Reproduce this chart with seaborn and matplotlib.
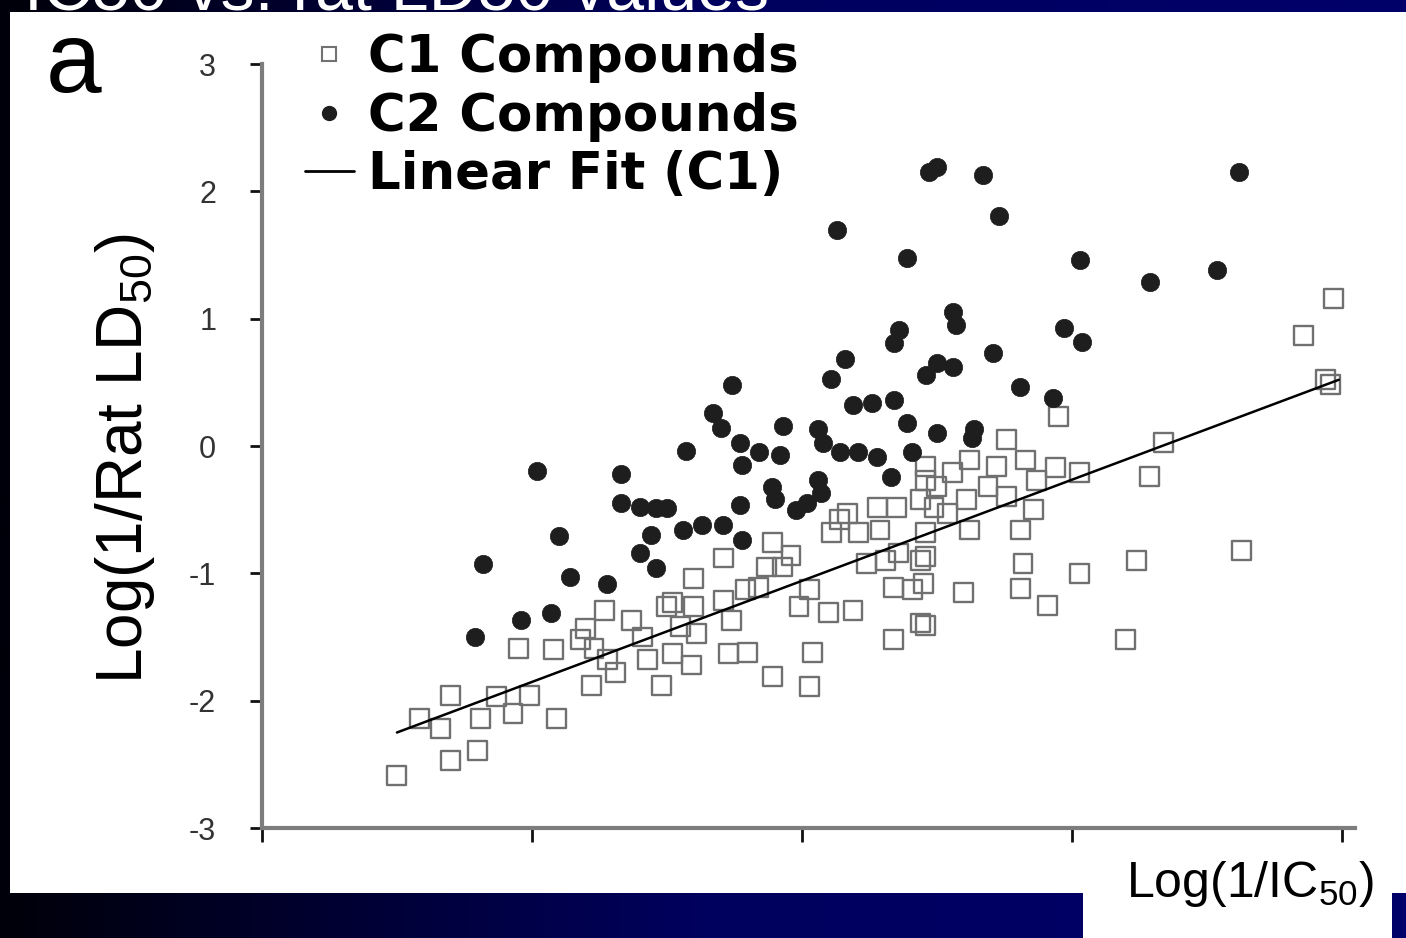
import numpy as np
import pandas as pd
import matplotlib
matplotlib.use("Agg")
import matplotlib.pyplot as plt
import seaborn as sns
from matplotlib.patches import Rectangle
from matplotlib.lines import Line2D
from matplotlib.colors import LinearSegmentedColormap

# ---------------- data ----------------
c1_x = [0.50, 0.585, 0.66, 0.70, 0.70, 0.80, 0.81, 0.87, 0.93, 0.99, 1.09, 0.95, 1.08, 1.18, 1.20, 1.27,
        1.23, 1.22, 1.28, 1.31, 1.37, 1.41, 1.43, 1.48, 1.50, 1.52,
        1.60, 1.52, 1.60, 1.55, 1.61, 1.71, 1.74, 1.73, 1.80, 1.59, 1.89, 2.04, 2.03, 1.87, 1.93, 1.89,
        1.84, 1.99, 2.10, 2.19, 2.03, 2.14, 2.17, 2.11, 2.21, 2.28, 2.35, 2.24, 2.31, 2.34, 2.41, 2.36,
        2.44, 2.44, 2.34, 2.46, 2.44, 1.71, 1.79, 1.96, 2.29,
        2.95, 2.76, 2.83, 2.94, 3.03, 2.87, 2.72, 2.62, 2.56, 2.46, 2.50, 2.61, 2.54, 2.76, 2.86, 2.81,
        2.62, 2.49, 2.46, 2.82, 2.81, 2.91, 2.60, 2.46, 2.45, 2.46, 3.03, 3.24, 3.20, 3.34, 3.29, 3.63,
        3.86, 3.97, 3.94, 3.96, 2.69]
c1_y = [-2.59, -2.14, -2.22, -1.96, -2.47, -2.39, -2.14, -1.97, -2.10, -1.96, -2.14, -1.59, -1.60, -1.52,
        -1.43, -1.29, -1.59, -1.88, -1.68, -1.78, -1.37, -1.50, -1.68, -1.88, -1.26, -1.63,
        -1.04, -1.23, -1.26, -1.42, -1.47, -0.88, -1.37, -1.63, -1.62, -1.72, -1.81, -1.62, -1.89, -0.95,
        -0.95, -0.76, -1.11, -1.26, -1.31, -1.29, -1.13, -0.58, -0.53, -0.68, -0.68, -0.48, -0.48, -0.92,
        -0.90, -1.11, -1.13, -0.84, -0.90, -1.39, -1.52, -0.27, -0.42, -1.21, -1.13, -0.86, -0.66,
        0.23, 0.05, -0.11, -0.17, -0.21, -0.27, -0.16, -0.11, -0.21, -0.16, -0.32, -0.42, -0.53, -0.40,
        -0.50, -0.66, -0.66, -0.48, -0.68, -0.92, -1.12, -1.25, -1.15, -0.87, -1.08, -1.41, -1.00, -0.90,
        -1.52, 0.03, -0.24, -0.82, 0.87, 1.16, 0.52, 0.48, -0.32]

c2_x = [0.79, 0.82, 0.96, 1.02, 1.07, 1.10, 1.14, 1.28, 1.33, 1.33,
        1.40, 1.46, 1.50, 1.44, 1.40, 1.46, 1.57, 1.56, 1.63, 1.71,
        1.67, 1.70, 1.74, 1.77, 1.78, 1.77, 1.78, 1.84, 1.92, 1.93,
        1.89, 1.90, 1.98, 2.02, 2.06, 2.08, 2.06, 2.07, 2.14, 2.21,
        2.28, 2.33, 2.13, 2.11, 2.16, 2.19, 2.26, 2.34, 2.34, 2.36,
        2.39, 2.41, 2.39, 2.46, 2.50, 2.56, 2.47, 2.50, 2.56, 2.57,
        2.50, 2.63, 2.64, 2.67, 2.71, 2.73, 2.81, 2.93, 2.97, 3.04,
        3.03, 3.29, 3.54, 3.62]
c2_y = [-1.50, -0.93, -1.37, -0.20, -1.31, -0.71, -1.03, -1.08, -0.22, -0.45,
        -0.48, -0.49, -0.49, -0.70, -0.84, -0.96, -0.04, -0.66, -0.62, -0.62,
        0.26, 0.14, 0.48, 0.02, -0.15, -0.46, -0.74, -0.05, -0.07, 0.16,
        -0.32, -0.42, -0.50, -0.45, 0.13, 0.02, -0.27, -0.37, -0.05, -0.05,
        -0.09, -0.24, 1.70, 0.53, 0.68, 0.32, 0.34, 0.36, 0.81, 0.91,
        0.18, -0.05, 1.48, 0.56, 0.65, 0.62, 2.15, 2.19, 1.05, 0.95,
        0.10, 0.06, 0.13, 2.13, 0.73, 1.81, 0.46, 0.38, 0.93, 0.82,
        1.46, 1.29, 1.38, 2.15]

# linear fit of C1 as drawn in the figure (end points)
fit_x = [0.50, 3.99]
fit_y = [-2.25, 0.52]

y_ticks = [-3, -2, -1, 0, 1, 2, 3]
y_ticklabels = ["-3", "-2", "-1", "0", "1", "2", "3"]
x_ticks = [0, 1, 2, 3, 4]

legend_labels = ["C1 Compounds", "C2 Compounds", "Linear Fit (C1)"]
title_text = "IC50 vs. rat LD50 values"
panel_letter = "a"
x_label = "Log(1/IC$_{50}$)"
y_label = "Log(1/Rat LD$_{50}$)"

# ---------------- style ----------------
sns.set_style("white")
plt.rcParams['font.family'] = ['Liberation Sans', 'DejaVu Sans']
plt.rcParams['mathtext.default'] = 'regular'
plt.rcParams['text.color'] = 'black'

W, H = 1406, 938
fig = plt.figure(figsize=(W / 100, H / 100), dpi=100)

# background: dark gradient with white panels
bg = fig.add_axes([0, 0, 1, 1], zorder=-10)
cmap = LinearSegmentedColormap.from_list("bg", ["#00000a", "#00005e", "#00006a"])
bg.imshow(np.linspace(0, 1, 512)[None, :], aspect='auto', cmap=cmap, extent=[0, W, H, 0])
bg.add_patch(Rectangle((10, 12), W - 10, 881, facecolor='white', edgecolor='none'))
bg.add_patch(Rectangle((1083, 880), 1392 - 1083, 60, facecolor='white', edgecolor='none'))
bg.set_xlim(0, W)
bg.set_ylim(H, 0)
bg.axis('off')

# main axes
ax = fig.add_axes([262 / W, 110 / H, (1355 - 262) / W, 764 / H], zorder=5)
ax.patch.set_alpha(0)

sns.scatterplot(x=c1_x, y=c1_y, marker='s', s=185, color='white', edgecolor='#707070',
                linewidth=1.7, ax=ax, zorder=3)
ax.collections[-1].set_facecolor('none')
sns.scatterplot(x=c2_x, y=c2_y, marker='o', s=175, color='#1e1e1e', edgecolor='#1e1e1e',
                linewidth=0.5, ax=ax, zorder=4)
sns.lineplot(x=fit_x, y=fit_y, color='black', lw=1.8, ax=ax, zorder=5)

ax.set_xlim(0, 4.05)
ax.set_ylim(-3, 3)
ax.set_yticks(y_ticks)
ax.set_yticklabels(y_ticklabels)
ax.set_xticks(x_ticks)
ax.set_xticklabels([])

for side in ['top', 'right']:
    ax.spines[side].set_visible(False)
for side in ['left', 'bottom']:
    ax.spines[side].set_visible(True)
    ax.spines[side].set_color('#7d7d7d')
    ax.spines[side].set_linewidth(3)

ax.tick_params(axis='y', direction='out', length=9, width=2, color='#111111', labelsize=22,
               labelcolor='#333333', pad=24, left=True)
ax.tick_params(axis='x', direction='out', length=10, width=2, color='#111111', bottom=True)

ax.set_ylabel(y_label, fontsize=46, color='black')
ax.yaxis.set_label_coords(-0.096, 0.484)
ax.set_xlabel(x_label, fontsize=36, color='black')
ax.xaxis.set_label_coords(0.904, -0.04)

handles = [
    Line2D([], [], marker='s', ls='none', mfc='none', mec='#727272', ms=10, mew=1.5),
    Line2D([], [], marker='o', ls='none', color='#1e1e1e', ms=10),
    Line2D([], [], color='black', lw=2),
]
leg = ax.legend(handles, legend_labels, loc='upper left', bbox_to_anchor=(305 / W, 1 - 33 / H),
                bbox_transform=fig.transFigure, frameon=False,
                prop={'family': 'DejaVu Sans', 'weight': 'bold', 'size': 37},
                handlelength=0.95, handletextpad=0.27, labelspacing=0.17, borderpad=0, borderaxespad=0)
for t in leg.get_texts():
    t.set_color('black')

fig.text(46 / W, 1 - 92 / H, panel_letter, fontsize=72, ha='left', va='baseline', color='black')
fig.text(24 / W, 1 - 9 / H, title_text, fontsize=49, ha='left', va='baseline', color='white')

fig.savefig("out.png", dpi=100)
